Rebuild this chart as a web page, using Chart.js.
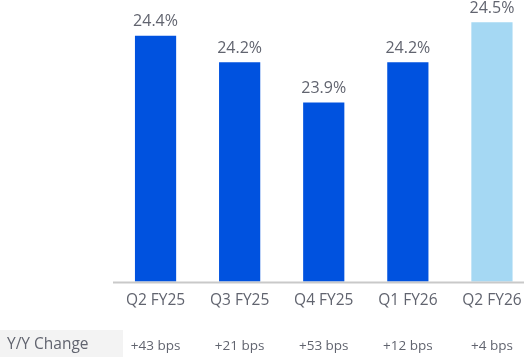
<!DOCTYPE html>
<html lang="en">

<head>
    <meta charset="UTF-8">
    <title>Margin by Quarter</title>
    <script src="https://cdn.jsdelivr.net/npm/chart.js"></script>
    <style>
        html, body {
            margin: 0;
            padding: 0;
            background: #FFFFFF;
            overflow: hidden;
        }

        .holder {
            position: relative;
            width: 534px;
            height: 358px;
        }
    </style>
</head>

<body>
    <div class="holder">
        <canvas id="marginChart"></canvas>
    </div>

    <script>
        const quarters = ['Q2 FY25', 'Q3 FY25', 'Q4 FY25', 'Q1 FY26', 'Q2 FY26'];
        const margins = [24.4, 24.2, 23.9, 24.2, 24.5];
        const yoyChange = ['+43 bps', '+21 bps', '+53 bps', '+12 bps', '+4 bps'];
        const barColors = ['#0052DF', '#0052DF', '#0052DF', '#0052DF', '#A5D8F3'];

        const fontName = "'Open Sans', sans-serif";
        const textColor = '#61646F';

        // value labels above the bars + the Y/Y row under the axis
        const extras = {
            id: 'extras',
            afterDatasetsDraw(chart) {
                const ctx = chart.ctx;
                const meta = chart.getDatasetMeta(0);
                const xScale = chart.scales.x;
                const area = chart.chartArea;

                ctx.save();

                // baseline
                ctx.strokeStyle = '#C9C9C9';
                ctx.lineWidth = 2;
                ctx.beginPath();
                ctx.moveTo(113, area.bottom + 1);
                ctx.lineTo(524, area.bottom + 1);
                ctx.stroke();

                ctx.font = '16px ' + fontName;
                ctx.fillStyle = textColor;
                ctx.textAlign = 'center';
                ctx.textBaseline = 'bottom';
                meta.data.forEach((bar, i) => {
                    ctx.fillText(margins[i].toFixed(1) + '%', bar.x, bar.y - 6);
                });

                // Y/Y row
                ctx.fillStyle = '#F3F3F3';
                ctx.fillRect(0, 330, 123, 27);
                ctx.fillStyle = textColor;
                ctx.textBaseline = 'middle';
                ctx.textAlign = 'left';
                ctx.font = '15.5px ' + fontName;
                ctx.fillText('Y/Y Change', 7, 345);
                ctx.textAlign = 'center';
                ctx.font = '13.5px ' + fontName;
                yoyChange.forEach((t, i) => {
                    ctx.fillText(t, xScale.getPixelForValue(i), 346);
                });

                ctx.restore();
            }
        };

        new Chart(document.getElementById('marginChart'), {
            type: 'bar',
            data: {
                labels: quarters,
                datasets: [{
                    data: margins,
                    backgroundColor: barColors,
                    borderWidth: 0,
                    categoryPercentage: 1,
                    barPercentage: 0.49
                }]
            },
            options: {
                responsive: true,
                maintainAspectRatio: false,
                animation: false,
                layout: {
                    padding: { left: 113.5, right: 0, top: 0, bottom: 38 }
                },
                plugins: {
                    legend: { display: false },
                    tooltip: { enabled: false }
                },
                scales: {
                    x: {
                        grid: { display: false, drawTicks: false },
                        border: { display: false },
                        ticks: {
                            padding: 10,
                            color: textColor,
                            font: { family: fontName, size: 15.5 }
                        }
                    },
                    y: {
                        display: false,
                        min: 22.56,
                        max: 24.667
                    }
                }
            },
            plugins: [extras]
        });
    </script>
</body>

</html>
